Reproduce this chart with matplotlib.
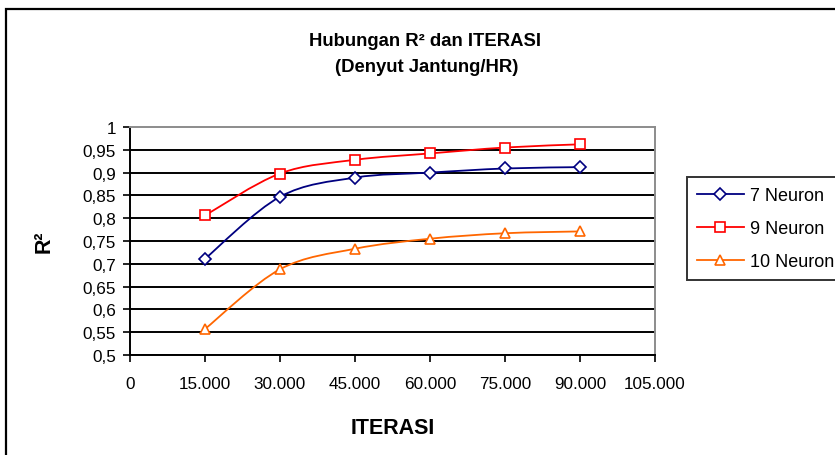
import numpy as np
import matplotlib.pyplot as plt
from matplotlib.path import Path
from matplotlib.patches import PathPatch, Rectangle
from matplotlib.lines import Line2D
from matplotlib.ticker import FixedLocator, FuncFormatter

plt.rcParams['font.family'] = ['Liberation Sans', 'DejaVu Sans']

iterasi = [15000, 30000, 45000, 60000, 75000, 90000]
r2_7_neuron = [0.711, 0.847, 0.889, 0.900, 0.909, 0.912]
r2_9_neuron = [0.806, 0.898, 0.928, 0.942, 0.955, 0.962]
r2_10_neuron = [0.557, 0.688, 0.733, 0.755, 0.767, 0.771]

series = [
    ('7 Neuron', r2_7_neuron, '#000080', 'D', 5.8),
    ('9 Neuron', r2_9_neuron, '#FF0000', 's', 6.5),
    ('10 Neuron', r2_10_neuron, '#FF6600', '^', 7.5),
]

x_ticks = [0, 15000, 30000, 45000, 60000, 75000, 90000, 105000]
y_ticks = [0.5, 0.55, 0.6, 0.65, 0.7, 0.75, 0.8, 0.85, 0.9, 0.95, 1.0]


def smooth_path(xs, ys):
    # Catmull-Rom style bezier through every point, ends padded with themselves
    pts = np.column_stack([xs, ys]).astype(float)
    padded = np.vstack([pts[:1], pts, pts[-1:]])
    verts = [pts[0]]
    codes = [Path.MOVETO]
    for i in range(len(pts) - 1):
        p0, p1, p2, p3 = padded[i], padded[i + 1], padded[i + 2], padded[i + 3]
        c1 = p1 + (p2 - p0) / 6.0
        c2 = p2 - (p3 - p1) / 6.0
        verts += [c1, c2, p2]
        codes += [Path.CURVE4] * 3
    return Path(verts, codes)


W, H = 835, 456
fig = plt.figure(figsize=(W / 100, H / 100), dpi=100)
ax = fig.add_axes([130 / W, 1 - 356 / H, 525 / W, 228 / H])

handles = []
for name, vals, color, marker, ms in series:
    ax.add_patch(PathPatch(smooth_path(iterasi, vals), fill=False,
                           edgecolor=color, lw=1.3, zorder=3))
    ax.plot(iterasi, vals, linestyle='none', marker=marker, markersize=ms,
            markerfacecolor='white', markeredgecolor=color,
            markeredgewidth=1.2, zorder=4)
    handles.append(Line2D([], [], color=color, lw=1.3, marker=marker,
                          markersize=ms, markerfacecolor='white',
                          markeredgecolor=color, markeredgewidth=1.2))

ax.set_xlim(0, 105000)
ax.set_ylim(0.5, 1.0)
ax.xaxis.set_major_locator(FixedLocator(x_ticks))
ax.yaxis.set_major_locator(FixedLocator(y_ticks))
ax.xaxis.set_major_formatter(FuncFormatter(lambda v, p: f"{int(v):,}".replace(',', '.')))
ax.yaxis.set_major_formatter(FuncFormatter(lambda v, p: f"{v:g}".replace('.', ',')))
ax.tick_params(axis='both', direction='out', length=5, width=1.2,
               labelsize=12.3, color='black')
ax.tick_params(axis='y', pad=5)
ax.tick_params(axis='x', pad=10)

ax.yaxis.grid(True, color='black', lw=1.4)
ax.yaxis.get_major_ticks()[-1].gridline.set_visible(False)
ax.set_axisbelow(True)

for side in ('left', 'bottom'):
    ax.spines[side].set_color('black')
    ax.spines[side].set_linewidth(1.4)
for side in ('top', 'right'):
    ax.spines[side].set_color('#8c8c8c')
    ax.spines[side].set_linewidth(1.4)

ax.set_xlabel('ITERASI', fontsize=15.5, fontweight='bold', labelpad=19)
ax.set_ylabel('R²', fontsize=15.5, fontweight='bold', labelpad=20)

fig.text(425 / W, 1 - 42 / H, 'Hubungan R² dan ITERASI', ha='center', va='center',
         fontsize=13.3, fontweight='bold')
fig.text(427 / W, 1 - 67 / H, '(Denyut Jantung/HR)', ha='center', va='center',
         fontsize=13.3, fontweight='bold')

leg = fig.legend(handles, [s[0] for s in series], loc='upper left',
                 bbox_to_anchor=(687 / W, 1 - 178 / H), bbox_transform=fig.transFigure,
                 borderaxespad=0, fontsize=13, frameon=True, fancybox=False,
                 handlelength=2.6, handletextpad=0.35, labelspacing=0.9,
                 borderpad=0.55)
leg.get_frame().set_edgecolor('black')
leg.get_frame().set_linewidth(1.4)

# chart area border, running off the right and bottom edges
fig.add_artist(Rectangle((6 / W, -0.05), 1.2, 1 - 10 / H + 0.05,
                         transform=fig.transFigure, fill=False,
                         edgecolor='black', lw=1.6))

fig.savefig('out.png', dpi=100)
